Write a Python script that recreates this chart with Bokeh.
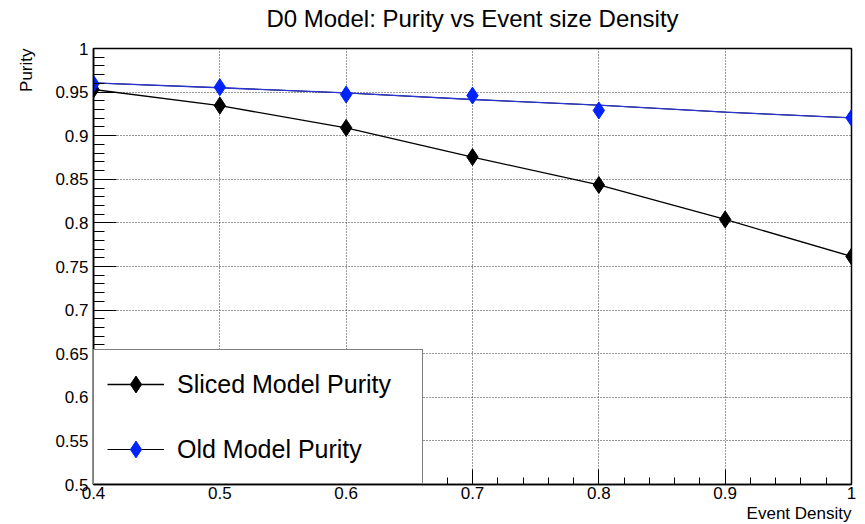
from bokeh.plotting import figure
from bokeh.models import (FixedTicker, Legend, LegendItem, Range1d, Title)
from bokeh.embed import file_html
from bokeh.resources import INLINE

# ---- data ----
sliced_x = [0.4, 0.5, 0.6, 0.7, 0.8, 0.9, 1.0]
sliced_purity = [0.953, 0.9345, 0.909, 0.8755, 0.8435, 0.804, 0.7615]

old_x = [0.4, 0.5, 0.6, 0.7, 0.8, 1.0]
old_purity = [0.9595, 0.9556, 0.9472, 0.946, 0.929, 0.9205]

# smooth curve drawn through the old-model points (as seen in the picture)
old_curve_x = [0.4, 0.5, 0.6, 0.7, 0.8, 0.9, 1.0]
old_curve_y = [0.9605, 0.955, 0.949, 0.9415, 0.935, 0.927, 0.9205]

x_ticks = [0.4, 0.5, 0.6, 0.7, 0.8, 0.9, 1.0]
x_tick_labels = ["0.4", "0.5", "0.6", "0.7", "0.8", "0.9", "1"]
y_ticks = [0.5, 0.55, 0.6, 0.65, 0.7, 0.75, 0.8, 0.85, 0.9, 0.95, 1.0]
y_tick_labels = ["0.5", "0.55", "0.6", "0.65", "0.7", "0.75", "0.8", "0.85", "0.9", "0.95", "1"]
x_minor = [round(0.40 + 0.02 * i, 2) for i in range(31)]
y_minor = [round(0.50 + 0.01 * i, 2) for i in range(51)]

title_text = "D0 Model: Purity vs Event size Density"
x_label = "Event Density"
y_label = "Purity"
legend_labels = ["Sliced Model Purity", "Old Model Purity"]

FONT = "Liberation Sans"

p = figure(width=865, height=524, output_backend="svg", toolbar_location=None,
           x_range=Range1d(0.4, 1.0), y_range=Range1d(0.5, 1.0),
           min_border_left=93, min_border_right=14, min_border_top=48,
           min_border_bottom=40)
p.background_fill_color = "white"
p.border_fill_color = "white"
p.outline_line_color = "black"
p.outline_line_width = 1.5

# main title (top, centred over the frame, raised with an empty 2nd line)
p.title.text = title_text + "\n "
p.title.align = "center"
p.title.vertical_align = "bottom"
p.title.text_font = FONT
p.title.text_font_size = "24px"
p.title.text_font_style = "normal"
p.title.text_color = "black"
p.title.standoff = -20

# axis titles, ROOT style
p.add_layout(Title(text=x_label, align="right", text_font=FONT,
                   text_font_size="17px", text_font_style="normal",
                   text_color="black", standoff=0), "below")
p.add_layout(Title(text=y_label, align="right", vertical_align="top",
                   text_font=FONT, text_font_size="17px",
                   text_font_style="normal", text_color="black",
                   standoff=29), "left")

# axes
p.xaxis.ticker = FixedTicker(ticks=x_ticks, minor_ticks=x_minor)
p.yaxis.ticker = FixedTicker(ticks=y_ticks, minor_ticks=y_minor)
p.xaxis.major_label_overrides = {t: l for t, l in zip(x_ticks, x_tick_labels)}
p.yaxis.major_label_overrides = {t: l for t, l in zip(y_ticks, y_tick_labels)}
for ax in (p.xaxis, p.yaxis):
    ax.major_tick_out = 0
    ax.minor_tick_out = 0
    ax.axis_line_color = "black"
    ax.axis_line_width = 1.5
    ax.major_tick_line_color = "black"
    ax.minor_tick_line_color = "black"
    ax.major_label_text_font = FONT
    ax.major_label_text_font_size = "17px"
    ax.major_label_text_color = "black"
p.yaxis.major_tick_in = 23
p.yaxis.minor_tick_in = 11
p.xaxis.major_tick_in = 15
p.xaxis.minor_tick_in = 7
p.yaxis.major_label_standoff = 5
p.xaxis.major_label_standoff = 2

# grid
for g in (p.xgrid, p.ygrid):
    g.grid_line_color = "#333333"
    g.grid_line_dash = "1 2"
    g.grid_line_width = 1
p.xgrid.ticker = FixedTicker(ticks=x_ticks)
p.ygrid.ticker = FixedTicker(ticks=y_ticks)

# series
l1 = p.line(sliced_x, sliced_purity, line_color="black", line_width=1.3)
s1 = p.scatter(sliced_x, sliced_purity, marker="diamond", size=17,
               fill_color="black", line_color="black")
# thin black copy under the blue curve: gives the black legend swatch line
l_leg = p.line(old_curve_x, old_curve_y, line_color="black", line_width=1.0)
l2 = p.line(old_curve_x, old_curve_y, line_color="#2b35d0", line_width=1.3)
s2 = p.scatter(old_x, old_purity, marker="diamond", size=17,
               fill_color="#0022ff", line_color="#0022ff")

legend = Legend(items=[LegendItem(label=legend_labels[0], renderers=[l1, s1]),
                       LegendItem(label=legend_labels[1], renderers=[l_leg, s2])],
                location=(0, 0), margin=0, padding=13, spacing=23,
                glyph_width=57, glyph_height=42, label_height=42,
                label_width=232, label_standoff=13,
                label_text_font=FONT, label_text_font_size="25px",
                label_text_color="black",
                border_line_color="black", border_line_width=1.5,
                background_fill_color="white", background_fill_alpha=1.0)
p.add_layout(legend, "center")

open("out.html", "w").write(file_html(p, INLINE))
